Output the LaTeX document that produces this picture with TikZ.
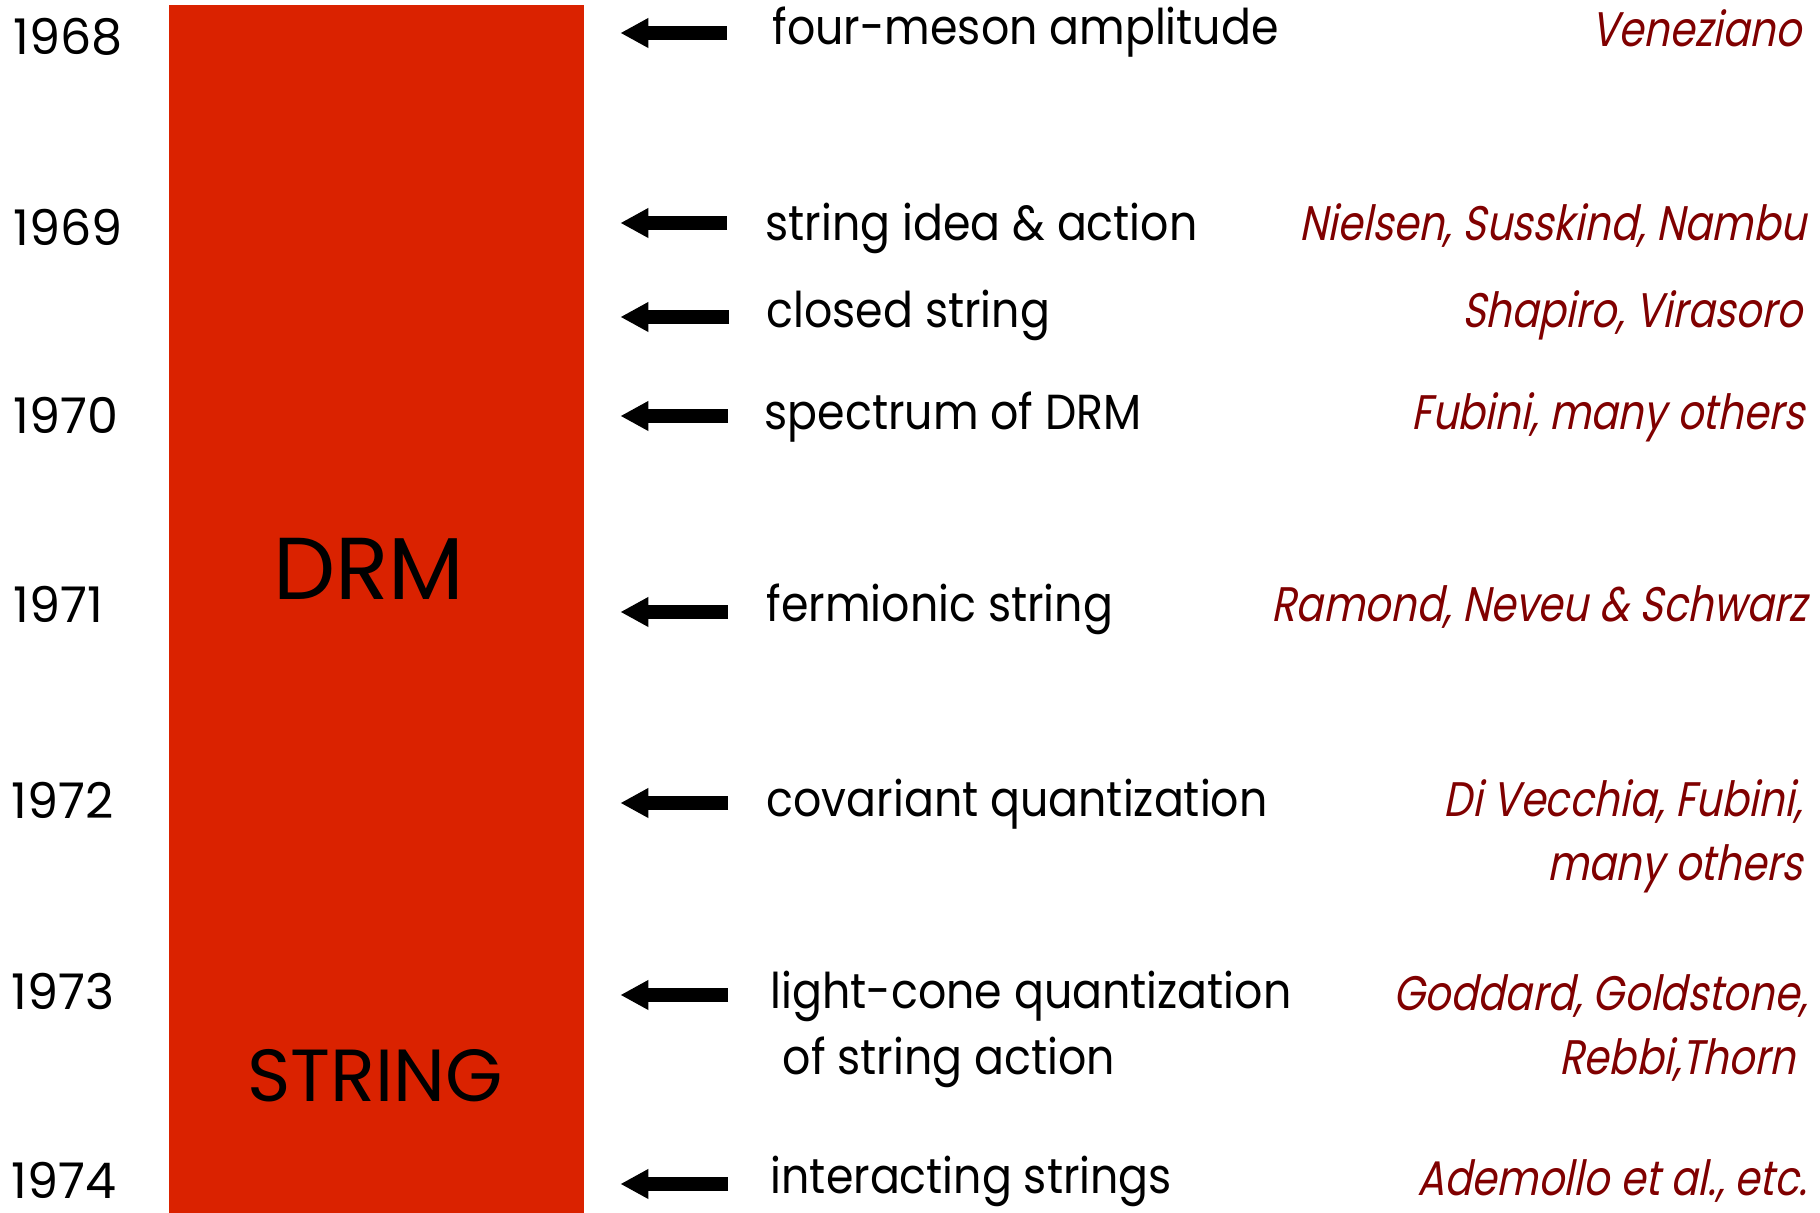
\documentclass[tikz,border=0pt]{standalone}
\usepackage{fontspec}
\setmainfont{Poppins}[FakeStretch=0.9]
\newfontfamily\plainfont{Poppins}
\newfontfamily\whofont[FakeSlant=0.2,FakeStretch=0.83]{Poppins}
\usetikzlibrary{arrows.meta}
\definecolor{barred}{RGB}{218,34,0}
\definecolor{whored}{RGB}{128,0,0}

\begin{document}
\begin{tikzpicture}[>={Triangle[length=0.28cm,width=0.28cm]},
  year/.style={anchor=base west,inner sep=0pt,font=\plainfont\fontsize{14}{17}\selectfont},
  event/.style={anchor=base west,inner sep=0pt,align=left,font=\fontsize{14}{19}\selectfont},
  who/.style={anchor=base east,inner sep=0pt,align=right,text=whored,font=\whofont\fontsize{13.8}{18.4}\selectfont},
  hand/.style={->,line width=0.14cm,shorten >=0.36cm}]
  \useasboundingbox (0,0) rectangle (18.2,-12.13);
  % bar
  \node[fill=barred,inner sep=0pt,minimum width=4.15cm,minimum height=12.09cm,anchor=north west] (bar) at (1.68,-0.04) {};
  \node[font=\plainfont\fontsize{25}{30}\selectfont] (drm) at (3.69,-5.69) {DRM};
  \node[font=\plainfont\fontsize{21}{25}\selectfont] (str) at (3.75,-10.76) {STRING};
  % years
  \node[year] (y68) at (0.13,-0.545) {1968};
  \node[year] (y69) at (0.13,-2.46) {1969};
  \node[year] (y70) at (0.13,-4.34) {1970};
  \node[year] (y71) at (0.13,-6.23) {1971};
  \node[year] (y72) at (0.11,-8.19) {1972};
  \node[year] (y73) at (0.11,-10.10) {1973};
  \node[year] (y74) at (0.11,-11.99) {1974};
  % events
  \node[event] (e1) at (7.72,-0.45) {four-meson amplitude};
  \node[event] (e2) at (7.65,-2.41) {string idea \& action};
  \node[event] (e3) at (7.66,-3.28) {closed string};
  \node[event] (e4) at (7.64,-4.30) {spectrum of DRM};
  \node[event] (e5) at (7.66,-6.22) {fermionic string};
  \node[event] (e6) at (7.66,-8.17) {covariant quantization};
  \node[event] (e7) at (7.70,-10.75) {light-cone quantization\\\hspace*{0.12cm}of string action};
  \node[event] (e8) at (7.70,-11.94) {interacting strings};
  % who did it
  \node[who] (w1) at (18.02,-0.47) {Veneziano};
  \node[who] (w2) at (18.07,-2.41) {Nielsen, Susskind, Nambu};
  \node[who] (w3) at (18.03,-3.28) {Shapiro, Virasoro};
  \node[who] (w4) at (18.05,-4.30) {Fubini, many others};
  \node[who] (w5) at (18.08,-6.22) {Ramond, Neveu \& Schwarz};
  \node[who] (w6) at (18.03,-8.81) {Di Vecchia, Fubini,\\many others};
  \node[who] (w7) at (18.08,-10.75) {Goddard, Goldstone,\\Rebbi,Thorn\hspace*{0.12cm}};
  \node[who] (w8) at (18.08,-11.96) {Ademollo et al., etc.};
  % arrows
  \coordinate (t1) at (7.27,-0.33);
  \coordinate (t2) at (7.27,-2.23);
  \coordinate (t3) at (7.29,-3.17);
  \coordinate (t4) at (7.28,-4.16);
  \coordinate (t5) at (7.28,-6.12);
  \coordinate (t6) at (7.28,-8.03);
  \coordinate (t7) at (7.28,-9.95);
  \coordinate (t8) at (7.28,-11.84);
  \draw[hand] (t1) -- (t1 -| bar.east);
  \draw[hand] (t2) -- (t2 -| bar.east);
  \draw[hand] (t3) -- (t3 -| bar.east);
  \draw[hand] (t4) -- (t4 -| bar.east);
  \draw[hand] (t5) -- (t5 -| bar.east);
  \draw[hand] (t6) -- (t6 -| bar.east);
  \draw[hand] (t7) -- (t7 -| bar.east);
  \draw[hand] (t8) -- (t8 -| bar.east);
\end{tikzpicture}
\end{document}
